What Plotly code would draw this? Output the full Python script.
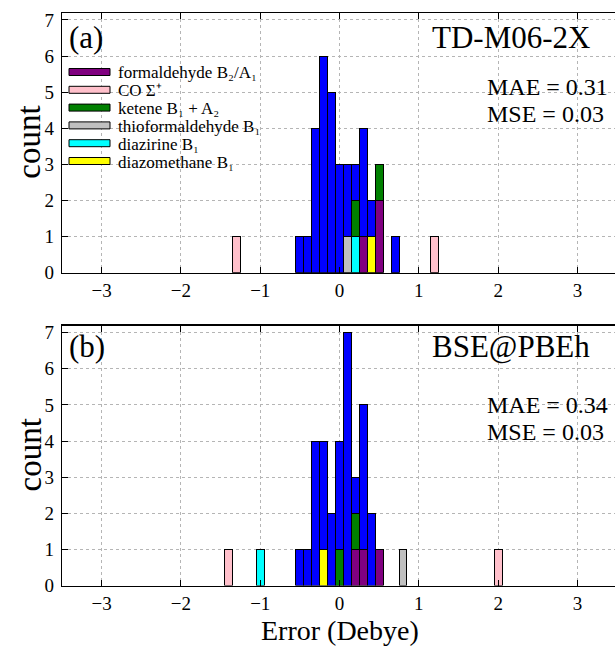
import plotly.graph_objects as go

W, H = 615, 647

series_names = [
    "formaldehyde B₂/A₁",
    "CO Σ⁺",
    "thioformaldehyde B₁",
    "diazirine B₁",
    "diazomethane B₁",
    "ketene B₁ + A₂",
    "other",
]
series_colors = ["#800080", "#FFC0CB", "#C0C0C0", "#00FFFF", "#FFFF00", "#008000", "#0000FF"]
legend_order = [0, 1, 5, 2, 3, 4]

bin_width = 0.1

# Panel (a): TD-M06-2X  (bin centers, counts)
a_formaldehyde_x = [0.3, 0.5]
a_formaldehyde_n = [1, 2]
a_co_x = [-1.3, 1.2]
a_co_n = [1, 1]
a_thio_x = [0.1]
a_thio_n = [1]
a_diazirine_x = [0.2]
a_diazirine_n = [1]
a_diazomethane_x = [0.4]
a_diazomethane_n = [1]
a_ketene_x = [0.2, 0.5]
a_ketene_n = [1, 1]
a_other_x = [-0.5, -0.4, -0.3, -0.2, -0.1, 0.0, 0.1, 0.2, 0.3, 0.4, 0.7]
a_other_n = [1, 1, 4, 6, 5, 3, 2, 1, 3, 1, 1]

# Panel (b): BSE@PBEh
b_formaldehyde_x = [0.2, 0.3, 0.5]
b_formaldehyde_n = [1, 1, 1]
b_co_x = [-1.4, 2.0]
b_co_n = [1, 1]
b_thio_x = [0.8]
b_thio_n = [1]
b_diazirine_x = [-1.0]
b_diazirine_n = [1]
b_diazomethane_x = [-0.2]
b_diazomethane_n = [1]
b_ketene_x = [0.0, 0.2]
b_ketene_n = [1, 1]
b_other_x = [-0.5, -0.4, -0.3, -0.2, -0.1, 0.0, 0.1, 0.2, 0.3, 0.4]
b_other_n = [1, 1, 4, 3, 2, 3, 7, 1, 4, 2]

panel_a = [(a_formaldehyde_x, a_formaldehyde_n), (a_co_x, a_co_n), (a_thio_x, a_thio_n),
           (a_diazirine_x, a_diazirine_n), (a_diazomethane_x, a_diazomethane_n),
           (a_ketene_x, a_ketene_n), (a_other_x, a_other_n)]
panel_b = [(b_formaldehyde_x, b_formaldehyde_n), (b_co_x, b_co_n), (b_thio_x, b_thio_n),
           (b_diazirine_x, b_diazirine_n), (b_diazomethane_x, b_diazomethane_n),
           (b_ketene_x, b_ketene_n), (b_other_x, b_other_n)]

panel_labels = ["(a)", "(b)"]
method_labels = ["TD-M06-2X", "BSE@PBEh"]
mae_labels = ["MAE = 0.31", "MAE = 0.34"]
mse_labels = ["MSE = 0.03", "MSE = 0.03"]
x_ticks = [-3, -2, -1, 0, 1, 2, 3]
y_ticks = [0, 1, 2, 3, 4, 5, 6, 7]

FONT = "Liberation Serif"

def px(x):
    return x / W

def py(y):
    return 1 - y / H

fig = go.Figure()

for p, data in enumerate([panel_a, panel_b]):
    xa = "x" if p == 0 else "x2"
    ya = "y" if p == 0 else "y2"
    for i, (xs, ns) in enumerate(data):
        fig.add_trace(go.Bar(
            x=xs, y=ns, width=bin_width, name=series_names[i],
            marker=dict(color=series_colors[i], line=dict(color="black", width=1)),
            xaxis=xa, yaxis=ya, showlegend=False, hoverinfo="skip",
        ))

# panel pixel geometry
left, right = 62, 615
panels_px = [(12.7, 272.7), (325.5, 585.5)]
x_range = [-3.5, -3.5 + (right - left) / 79.3]
y_range = [0, 7.2]

axis_common = dict(
    showline=True, linecolor="black", linewidth=1.2,
    ticks="inside", ticklen=6, tickcolor="black", tickwidth=1,
    showgrid=True, gridcolor="#b5b5b5", griddash="dot", gridwidth=1,
    zeroline=False, automargin=False,
    tickfont=dict(family=FONT, size=19, color="black"),
)

layout = dict(
    width=W, height=H, margin=dict(l=0, r=0, t=0, b=0),
    paper_bgcolor="white", plot_bgcolor="white", barmode="stack", bargap=0,
    showlegend=False, font=dict(family=FONT, color="black"),
)
for p, (top, bot) in enumerate(panels_px):
    sx = "" if p == 0 else "2"
    layout["xaxis" + sx] = dict(axis_common, domain=[px(left), 1.0], range=x_range,
                                tickvals=x_ticks, mirror="ticks", anchor="y" + sx,
                                ticklabelstandoff=0)
    layout["yaxis" + sx] = dict(axis_common, domain=[py(bot), py(top)], range=y_range,
                                tickvals=y_ticks, anchor="x" + sx, ticklabelstandoff=3)
fig.update_layout(**layout)

ann = []
shapes = []
text_rows = [(37, 87, 114), (347, 405, 432)]
for p, (top, bot) in enumerate(panels_px):
    r = text_rows[p]
    ann.append(dict(x=px(67), y=py(r[0]), xref="paper", yref="paper", text=panel_labels[p],
                    showarrow=False, xanchor="left", yanchor="middle",
                    font=dict(family=FONT, size=31, color="black")))
    ann.append(dict(x=px(592), y=py(r[0]), xref="paper", yref="paper", text=method_labels[p],
                    showarrow=False, xanchor="right", yanchor="middle",
                    font=dict(family=FONT, size=31, color="black")))
    ann.append(dict(x=px(485), y=py(r[1]), xref="paper", yref="paper", text=mae_labels[p],
                    showarrow=False, xanchor="left", yanchor="middle",
                    font=dict(family=FONT, size=24, color="black")))
    ann.append(dict(x=px(485), y=py(r[2]), xref="paper", yref="paper", text=mse_labels[p],
                    showarrow=False, xanchor="left", yanchor="middle",
                    font=dict(family=FONT, size=24, color="black")))
    ann.append(dict(x=px(29), y=py((top + bot) / 2), xref="paper", yref="paper", text="count",
                    showarrow=False, textangle=-90, xanchor="center", yanchor="middle",
                    font=dict(family=FONT, size=33, color="black")))

ann.append(dict(x=px(339.5), y=py(647), xref="paper", yref="paper", text="Error (Debye)",
                showarrow=False, xanchor="center", yanchor="bottom", borderpad=0,
                font=dict(family=FONT, size=28, color="black")))

# legend (panel a)
row_y0 = 72
row_dy = 17.8
for k, idx in enumerate(legend_order):
    yc = row_y0 + k * row_dy
    shapes.append(dict(type="rect", xref="paper", yref="paper",
                       x0=px(69), x1=px(110), y0=py(yc + 3.5), y1=py(yc - 3.5),
                       fillcolor=series_colors[idx], line=dict(color="black", width=1)))
    ann.append(dict(x=px(116), y=py(yc + 1), xref="paper", yref="paper", text=series_names[idx],
                    showarrow=False, xanchor="left", yanchor="middle",
                    font=dict(family=FONT, size=17, color="black")))

fig.update_layout(annotations=ann, shapes=shapes)
fig.write_html("out.html", config={"displayModeBar": False, "staticPlot": True},
               post_script="document.body.style.margin='0';document.body.style.padding='0';"
                           "document.documentElement.style.overflow='hidden';")
